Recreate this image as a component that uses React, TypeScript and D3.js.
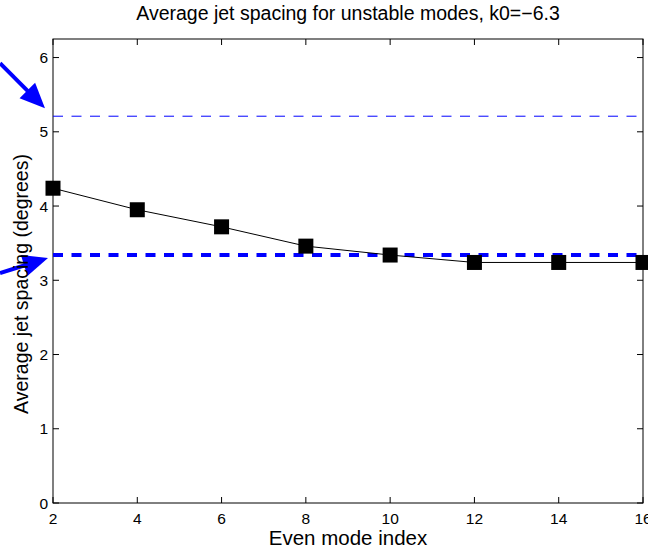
import * as d3 from "d3";
import React from "react";

const modeIndex = [2, 4, 6, 8, 10, 12, 14, 16];
const jetSpacing = [4.24, 3.95, 3.72, 3.46, 3.34, 3.24, 3.24, 3.24];
const refLines = [
  { value: 5.21, width: 1, dash: "10,8.5" },
  { value: 3.34, width: 4, dash: "10,8.5" },
];
const xTicks = [2, 4, 6, 8, 10, 12, 14, 16];
const yTicks = [0, 1, 2, 3, 4, 5, 6];

const App = () => {
  const width = 648;
  const height = 550;
  const margins = { top: 39, right: 5, bottom: 47, left: 53 };
  const innerWidth = width - margins.left - margins.right;
  const innerHeight = height - margins.top - margins.bottom;

  const xScale = d3.scaleLinear().domain([2, 16]).range([0, innerWidth]);
  const yScale = d3.scaleLinear().domain([0, 6.25]).range([innerHeight, 0]);

  const line = d3
    .line<number>()
    .x((d, i) => xScale(modeIndex[i]))
    .y((d) => yScale(d));

  const font = "Liberation Sans, Arial, sans-serif";
  const blue = "#0000ff";

  // arrows pointing at the two reference lines, tips just left of the axis
  const arrows = [
    { tip: [-8, yScale(refLines[0].value) - 8], tail: [-53, yScale(refLines[0].value) - 53] },
    { tip: [-5, yScale(refLines[1].value) + 3], tail: [-53, yScale(refLines[1].value) + 18] },
  ];

  const arrowHead = (tip: number[], tail: number[]) => {
    const dx = tip[0] - tail[0];
    const dy = tip[1] - tail[1];
    const len = Math.sqrt(dx * dx + dy * dy);
    const ux = dx / len;
    const uy = dy / len;
    const hl = 25;
    const hw = 11;
    const bx = tip[0] - ux * hl;
    const by = tip[1] - uy * hl;
    return `${tip[0]},${tip[1]} ${bx - uy * hw},${by + ux * hw} ${bx + uy * hw},${by - ux * hw}`;
  };

  return (
    <svg
      width={width}
      height={height}
      style={{ position: "absolute", left: 0, top: 0, background: "#fff" }}
    >
      <text x={348} y={20} textAnchor="middle" fontFamily={font} fontSize={19.5}>
        Average jet spacing for unstable modes, k0=−6.3
      </text>
      <g transform={`translate(${margins.left},${margins.top})`}>
        <rect width={innerWidth} height={innerHeight} fill="none" stroke="#000" strokeWidth={1} />
        {xTicks.map((t) => (
          <g key={"x" + t}>
            <line x1={xScale(t)} x2={xScale(t)} y1={innerHeight} y2={innerHeight - 6} stroke="#000" />
            <line x1={xScale(t)} x2={xScale(t)} y1={0} y2={6} stroke="#000" />
            <text
              x={xScale(t)}
              y={innerHeight + 21}
              textAnchor="middle"
              fontFamily={font}
              fontSize={15.5}
            >
              {t}
            </text>
          </g>
        ))}
        {yTicks.map((t) => (
          <g key={"y" + t}>
            <line x1={0} x2={6} y1={yScale(t)} y2={yScale(t)} stroke="#000" />
            <line x1={innerWidth} x2={innerWidth - 6} y1={yScale(t)} y2={yScale(t)} stroke="#000" />
            <text
              x={-5}
              y={yScale(t) + 5.5}
              textAnchor="end"
              fontFamily={font}
              fontSize={15.5}
            >
              {t}
            </text>
          </g>
        ))}
        {refLines.map((r) => (
          <line
            key={r.value}
            x1={0}
            x2={innerWidth}
            y1={yScale(r.value)}
            y2={yScale(r.value)}
            stroke={blue}
            strokeWidth={r.width}
            strokeDasharray={r.dash}
          />
        ))}
        <path d={line(jetSpacing) || ""} fill="none" stroke="#000" strokeWidth={1} />
        {jetSpacing.map((v, i) => (
          <rect
            key={i}
            x={xScale(modeIndex[i]) - 7.5}
            y={yScale(v) - 7.5}
            width={15}
            height={15}
            fill="#000"
          />
        ))}
        {arrows.map((a, i) => {
          const dx = a.tip[0] - a.tail[0];
          const dy = a.tip[1] - a.tail[1];
          const len = Math.sqrt(dx * dx + dy * dy);
          return (
            <g key={"a" + i}>
              <line
                x1={a.tail[0]}
                y1={a.tail[1]}
                x2={a.tip[0] - (dx / len) * 20}
                y2={a.tip[1] - (dy / len) * 20}
                stroke={blue}
                strokeWidth={4}
              />
              <polygon points={arrowHead(a.tip, a.tail)} fill={blue} />
            </g>
          );
        })}
      </g>
      <text
        x={348}
        y={545}
        textAnchor="middle"
        fontFamily={font}
        fontSize={20.5}
      >
        Even mode index
      </text>
      <text
        transform={`translate(28,284) rotate(-90)`}
        textAnchor="middle"
        fontFamily={font}
        fontSize={19.5}
      >
        Average jet spacing (degrees)
      </text>
    </svg>
  );
};

export default App;
